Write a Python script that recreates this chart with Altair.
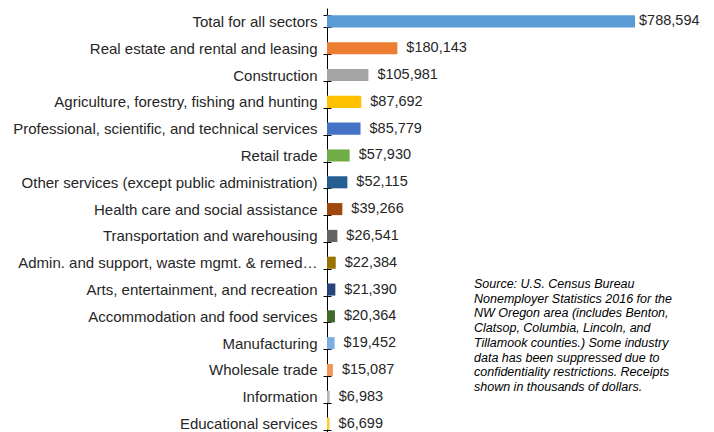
import altair as alt
import pandas as pd

sectors = [
    "Total for all sectors",
    "Real estate and rental and leasing",
    "Construction",
    "Agriculture, forestry, fishing and hunting",
    "Professional, scientific, and technical services",
    "Retail trade",
    "Other services (except public administration)",
    "Health care and social assistance",
    "Transportation and warehousing",
    "Admin. and support, waste mgmt. & remed\u2026",
    "Arts, entertainment, and recreation",
    "Accommodation and food services",
    "Manufacturing",
    "Wholesale trade",
    "Information",
    "Educational services",
]
receipts = [788594, 180143, 105981, 87692, 85779, 57930, 52115, 39266,
            26541, 22384, 21390, 20364, 19452, 15087, 6983, 6699]
colors = ["#5B9BD5", "#ED7D31", "#A5A5A5", "#FFC000", "#4472C4", "#70AD47",
          "#255E91", "#9E480E", "#636363", "#997300", "#264478", "#43682B",
          "#7CAFDD", "#F1975A", "#B7B7B7", "#FFCD33"]

note_lines = [
    "Source: U.S. Census Bureau",
    "Nonemployer Statistics 2016 for the",
    "NW Oregon area (includes Benton,",
    "Clatsop, Columbia, Lincoln, and",
    "Tillamook counties.) Some industry",
    "data has been suppressed due to",
    "confidentiality restrictions. Receipts",
    "shown in thousands of dollars.",
]

df = pd.DataFrame({"sector": sectors, "receipts": receipts, "color": colors})

FONT = "Liberation Sans"
ysc = alt.Scale(domain=sectors, paddingInner=0.55, paddingOuter=0.275)
xsc = alt.Scale(domain=[0, 960000], nice=False, zero=True)

base = alt.Chart(df)

bars = base.mark_bar().encode(
    y=alt.Y("sector:N", sort=sectors, scale=ysc,
            axis=alt.Axis(title=None, orient="left", labelFont=FONT,
                          labelFontSize=15, labelColor="#262626",
                          labelLimit=500, labelPadding=6, tickBand="extent",
                          tickSize=4, tickColor="#000000",
                          domainColor="#000000", domainWidth=1, tickWidth=1)),
    x=alt.X("receipts:Q", scale=xsc, axis=None),
    color=alt.Color("color:N", scale=None, legend=None),
)

inner_ticks = base.mark_bar(opacity=0).encode(
    y=alt.Y("sector:N", sort=sectors, scale=ysc,
            axis=alt.Axis(title=None, orient="left", labels=False,
                          domain=False, tickBand="extent", tickSize=4,
                          offset=-4, tickColor="#000000", tickWidth=1)),
    x=alt.X("receipts:Q", scale=xsc, axis=None),
)

labels = base.mark_text(align="left", baseline="middle", dx=9,
                        font=FONT, fontSize=14.5, color="#262626").encode(
    y=alt.Y("sector:N", sort=sectors, scale=ysc, axis=None),
    x=alt.X("receipts:Q", scale=xsc, axis=None),
    text=alt.Text("receipts:Q", format="$,d"),
).transform_filter(alt.datum.sector != sectors[0])

total_label = base.mark_text(align="left", baseline="middle", dx=4,
                             font=FONT, fontSize=14.5, color="#262626").encode(
    y=alt.Y("sector:N", sort=sectors, scale=ysc, axis=None),
    x=alt.X("receipts:Q", scale=xsc, axis=None),
    text=alt.Text("receipts:Q", format="$,d"),
).transform_filter(alt.datum.sector == sectors[0])

note = alt.Chart(pd.DataFrame({"t": [note_lines]})).mark_text(
    align="left", baseline="top", font=FONT, fontSize=12.5, fontStyle="italic",
    color="#000000", lineHeight=14.7,
).encode(
    x=alt.value(147), y=alt.value(270), text="t:N"
)

chart = alt.layer(bars, inner_ticks, labels, total_label, note).resolve_axis(
    y="independent"
).properties(
    width=375, height=429,
    padding={"left": 319, "top": 0, "right": 4, "bottom": 0},
    autosize=alt.AutoSizeParams(type="none"),
).configure_view(stroke=None)

chart.save("out.html", embed_options={"renderer": "svg", "actions": False})
